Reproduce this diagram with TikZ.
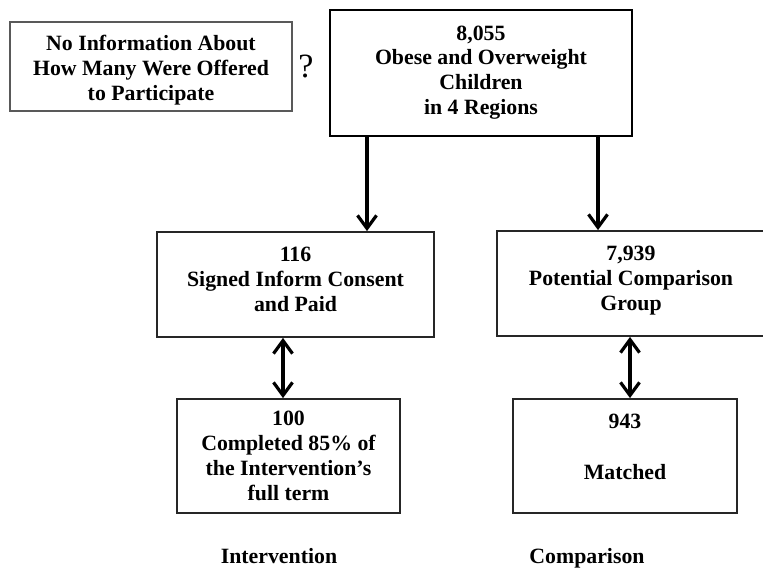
\documentclass[tikz,border=0pt]{standalone}
\usepackage{fontspec}
\setmainfont{Liberation Serif}
\usetikzlibrary{arrows.meta,positioning}
% trailing empty row that lifts a node's text slightly above centre
\newcommand{\liftby}[1]{\\[#1]\mbox{}}
% leading empty row that drops a node's text slightly below centre
\newcommand{\dropby}[1]{\mbox{}\\[#1]}
\begin{document}
\begin{tikzpicture}[x=1pt,y=-1pt,
  box/.style={draw=black!85,line width=1.8pt,rectangle,inner sep=0pt,align=center,
    font=\bfseries\fontsize{21.8}{24.8}\selectfont},
  notebox/.style={box,draw=black!65,line width=1.4pt},
  mainbox/.style={box,draw=black,line width=2.6pt},
  caption/.style={font=\bfseries\fontsize{21.8}{24.8}\selectfont,inner sep=0pt,anchor=base},
  arr/.style={line width=3.2pt,-{Straight Barb[length=13pt,width=19pt]}},
  darr/.style={line width=3.2pt,{Straight Barb[length=13pt,width=19pt]}-{Straight Barb[length=13pt,width=19pt]}}]
\useasboundingbox (0,0) rectangle (763,569);
\fill[white] (0,0) rectangle (763,569);

% boxes
\node[notebox,minimum width=282pt,minimum height=89pt] (info) at (151,66.5)
  {\dropby{-2pt}No Information About\\How Many Were Offered\\to Participate};
\node[font=\fontsize{34}{34}\selectfont,inner sep=0pt] (q) at (306,66) {?};
\node[mainbox,minimum width=302pt,minimum height=126pt] (total) at (481,73)
  {8,055\\Obese and Overweight\\Children\\in 4 Regions\liftby{-18.8pt}};
\node[box,minimum width=277pt,minimum height=105pt] (signed) at (295.5,284.5)
  {116\\Signed Inform Consent\\and Paid\liftby{-13.8pt}};
\node[box,minimum width=268pt,minimum height=105pt] (pool) at (631,283.5)
  {7,939\\Potential Comparison\\Group\liftby{-13.8pt}};
\node[box,minimum width=223pt,minimum height=114pt] (done) at (288.5,456)
  {100\\Completed 85\% of\\the Intervention's\\full term};
\node[box,minimum width=224pt,minimum height=114pt] (matched) at (625,456)
  {943\\[26pt]Matched\liftby{-6.8pt}};

% group captions
\node[caption] (capI) at (279,563) {Intervention};
\node[caption] (capC) at (587,563) {Comparison};

% connector columns
\coordinate (cl) at (367,0);
\coordinate (cr) at (598,0);
\coordinate (dl) at (283,0);
\coordinate (dr) at (630,0);

\draw[arr] (total.south -| cl) -- (signed.north -| cl);
\draw[arr] (total.south -| cr) -- (pool.north -| cr);
\draw[darr] (signed.south -| dl) -- (done.north -| dl);
\draw[darr] (pool.south -| dr) -- (matched.north -| dr);
\end{tikzpicture}
\end{document}
